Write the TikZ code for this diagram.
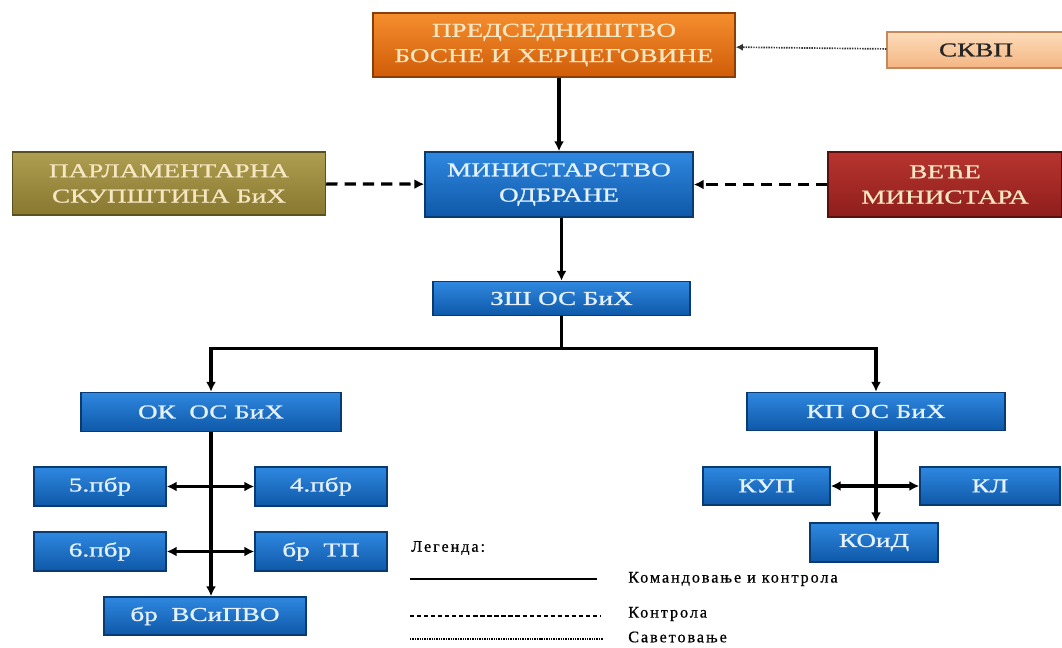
\documentclass[tikz,border=0pt]{standalone}
\usepackage{fontspec}
\setmainfont{Liberation Serif}
\newfontfamily\boxfont[FakeStretch=1.38, FakeBold=1]{Liberation Serif}
\newfontfamily\legfont[LetterSpace=12, FakeBold=0.6]{Liberation Serif}
\usetikzlibrary{arrows.meta}
\usetikzlibrary{positioning}
\definecolor{mbluetop}{HTML}{2F88E0}
\definecolor{mbluebot}{HTML}{0E58A8}
\definecolor{mblueedge}{HTML}{0A3A72}
\definecolor{mbluetext}{HTML}{E4F1FF}
\definecolor{morangetop}{HTML}{F58E2E}
\definecolor{morangebot}{HTML}{D05C08}
\definecolor{morangeedge}{HTML}{8A3E06}
\definecolor{mpeachtop}{HTML}{FDDCBA}
\definecolor{mpeachbot}{HTML}{F4B582}
\definecolor{mpeachedge}{HTML}{C08A5C}
\definecolor{molivetop}{HTML}{AD9E50}
\definecolor{molivebot}{HTML}{887830}
\definecolor{moliveedge}{HTML}{5A501E}
\definecolor{mredtop}{HTML}{B8342F}
\definecolor{mredbot}{HTML}{8E1E1C}
\definecolor{mrededge}{HTML}{5A0F0E}
\definecolor{mcream}{HTML}{F6E6C2}
\tikzset{box/.style = {draw, line width = 1pt, inner sep = 0, align = center,
    font = \boxfont\fontsize{14}{18}\selectfont}}
\tikzset{bluebox/.style = {box, draw = mblueedge, top color = mbluetop, bottom color = mbluebot, text = mbluetext}}
\tikzset{orangebox/.style = {box, draw = morangeedge, top color = morangetop, bottom color = morangebot, text = mcream}}
\tikzset{peachbox/.style = {box, draw = mpeachedge, top color = mpeachtop, bottom color = mpeachbot, text = black!85}}
\tikzset{olivebox/.style = {box, draw = moliveedge, top color = molivetop, bottom color = molivebot, text = mcream}}
\tikzset{redbox/.style = {box, draw = mrededge, top color = mredtop, bottom color = mredbot, text = mcream}}
\tikzset{tip/.style = {-{Latex[length = 7pt, width = 7pt]}}}
\tikzset{tips/.style = {{Latex[length = 7pt, width = 7pt]}-{Latex[length = 7pt, width = 7pt]}}}
\tikzset{cmd/.style = {line width = 2.3pt, tip}}
\tikzset{ctrl/.style = {line width = 2.3pt, dash pattern = on 8pt off 5pt, tip}}
\tikzset{advise/.style = {line width = 1.2pt, black!80, dash pattern = on 1pt off 0.8pt,
    -{Latex[length = 5pt, width = 5pt]}}}
\tikzset{legtext/.style = {anchor = west, inner sep = 0, font = \legfont\fontsize{11.5}{14}\selectfont}}

\begin{document}
\begin{tikzpicture}[x = 0.025cm, y = -0.025cm]
  \useasboundingbox (0, 0) rectangle (1062, 648);

  % top level
  \node [orangebox, minimum width = 9.05cm, minimum height = 1.6cm] (pred) at (554, 45)
    {ПРЕДСЕДНИШТВО\\БОСНЕ И ХЕРЦЕГОВИНЕ};
  \node [peachbox, minimum width = 4.45cm, minimum height = 0.9cm] (skvp) at (976, 50) {СКВП};
  \node [olivebox, minimum width = 7.825cm, minimum height = 1.575cm] (parl) at (169, 183.5)
    {ПАРЛАМЕНТАРНА\\СКУПШТИНА БиХ};
  \node [bluebox, minimum width = 6.7cm, minimum height = 1.625cm] (min) at (559, 184.5)
    {МИНИСТАРСТВО\\ОДБРАНЕ};
  \node [redbox, minimum width = 5.85cm, minimum height = 1.625cm] (vece) at (945, 184.5)
    {ВЕЋЕ\\МИНИСТАРА};
  \node [bluebox, minimum width = 6.425cm, minimum height = 0.85cm] (zsh) at (561.5, 298.5) {ЗШ ОС БиХ};

  % commands
  \node [bluebox, minimum width = 6.5cm, minimum height = 0.975cm] (ok) at (211, 412) {ОК\ \ ОС БиХ};
  \node [bluebox, minimum width = 6.45cm, minimum height = 0.95cm] (kp) at (876, 411.5) {КП ОС БиХ};

  % units
  \node [bluebox, minimum width = 3.3cm, minimum height = 0.975cm] (p5) at (100, 486.5) {5.пбр};
  \node [bluebox, minimum width = 3.3cm, minimum height = 0.975cm] (p4) at (321, 486.5) {4.пбр};
  \node [bluebox, minimum width = 3.3cm, minimum height = 0.975cm] (p6) at (100, 551.5) {6.пбр};
  \node [bluebox, minimum width = 3.3cm, minimum height = 0.975cm] (tp) at (321, 551.5) {бр\ \ ТП};
  \node [bluebox, minimum width = 5.05cm, minimum height = 0.95cm] (vs) at (205, 616) {бр\ \ ВСиПВО};
  \node [bluebox, minimum width = 3.175cm, minimum height = 0.95cm] (kup) at (766.5, 486) {КУП};
  \node [bluebox, minimum width = 3.5cm, minimum height = 0.95cm] (kl) at (990, 486) {КЛ};
  \node [bluebox, minimum width = 3.2cm, minimum height = 0.975cm] (kod) at (874, 542.5) {КОиД};

  % connectors
  \draw [advise] (skvp) -- (pred);
  \draw [cmd] (pred.south -| min.north) -- (min);
  \draw [ctrl] (parl) -- (min);
  \draw [ctrl] (vece) -- (min);
  \draw [cmd] (min.south -| zsh.north) -- (zsh);
  \draw [line width = 2.3pt] (zsh.south) -- ++(0, 32) coordinate (split);
  \draw [cmd] (split) -| (ok.north);
  \draw [cmd] (split) -| (kp.north);
  \draw [cmd] (ok.south) -- (ok.south |- vs.north);
  \draw [cmd, tips] (p5) -- (p4);
  \draw [cmd, tips] (p6) -- (tp);
  \draw [cmd] (kp.south) -- (kp.south |- kod.north);
  \draw [cmd, tips] (kup) -- (kl);

  % legend
  \node [legtext] (leg) at (411, 548) {Легенда:};
  \node [legtext] (legcmd) at (628, 579) {Командовање и контрола};
  \node [legtext] (legctrl) at (628, 614) {Контрола};
  \node [legtext] (legadv) at (628, 637) {Саветовање};
  \draw [line width = 0.8pt] (410, 579) -- (597, 579);
  \draw [line width = 0.8pt, dash pattern = on 3pt off 2pt] (410, 616) -- (600, 616);
  \draw [line width = 0.8pt, dash pattern = on 1pt off 0.7pt] (410, 639) -- (603, 639);
\end{tikzpicture}
\end{document}
